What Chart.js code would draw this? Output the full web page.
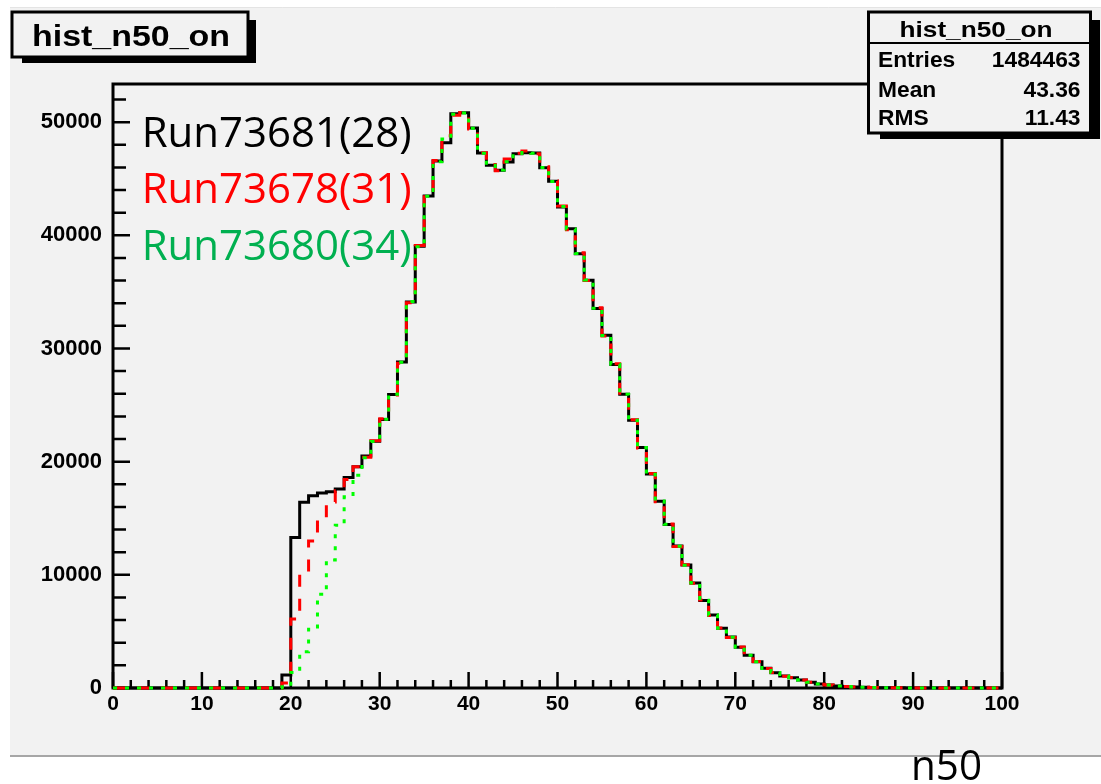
<!DOCTYPE html>
<html>
<head>
<meta charset="utf-8">
<title>hist_n50_on</title>
<script src="https://cdn.jsdelivr.net/npm/chart.js@4.4.0/dist/chart.umd.min.js"></script>
<style>
  html, body { margin: 0; padding: 0; background: #fff; }
  canvas { display: block; }
</style>
</head>
<body>
<canvas id="hist" width="1101" height="784"></canvas>
<script>
// bin contents of n50, 100 bins of width 1 from 0 to 100
const run73681 = [
    0, 0, 0, 0, 0, 0, 0, 0, 0, 0,
    0, 0, 0, 0, 0, 0, 0, 0, 0, 1150,
    13300, 16420, 16980, 17220, 17350, 17580, 18600, 19550, 20490, 21800,
    23730, 25930, 28810, 34110, 39030, 43470, 46560, 48180, 50740, 50830,
    49480, 47270, 46180, 45740, 46470, 47210, 47300, 47270, 45980, 44770,
    42500, 40590, 38380, 36040, 33530, 31170, 28580, 25960, 23660, 21250,
    18900, 16510, 14450, 12540, 10860, 9270, 7740, 6450, 5270, 4500,
    3590, 2900, 2320, 1740, 1350, 1060, 910, 710, 500, 350,
    260, 180, 130, 90, 60, 40, 30, 20, 15, 10,
    8, 5, 4, 3, 2, 2, 1, 1, 1, 0
];
const run73678 = [
    0, 0, 0, 0, 0, 0, 0, 0, 0, 0,
    0, 0, 0, 0, 0, 0, 0, 0, 0, 450,
    6090, 10050, 12980, 14890, 16430, 17430, 18430, 19560, 20400, 21850,
    23800, 25900, 28700, 34050, 39100, 43400, 46600, 48800, 50600, 50850,
    49400, 47300, 46250, 45700, 46750, 47250, 47450, 47200, 46050, 44800,
    42600, 40500, 38450, 36000, 33600, 31100, 28650, 25900, 23700, 21200,
    18950, 16450, 14500, 12500, 10900, 9250, 7780, 6400, 5300, 4470,
    3620, 2870, 2350, 1720, 1370, 1040, 920, 700, 510, 340,
    270, 175, 135, 88, 62, 42, 28, 21, 14, 10,
    7, 5, 4, 3, 2, 1, 1, 1, 0, 0
];
const run73680 = [
    0, 0, 0, 0, 0, 0, 0, 0, 0, 0,
    0, 0, 0, 0, 0, 0, 0, 0, 0, 100,
    1370, 3200, 5200, 8290, 11300, 14390, 16890, 18800, 20350, 21780,
    23750, 25950, 28780, 34150, 39000, 43450, 46500, 48500, 50700, 50800,
    49450, 47250, 46200, 45760, 46500, 47230, 47320, 47250, 46000, 44750,
    42550, 40550, 38400, 36050, 33550, 31150, 28600, 25950, 23650, 21250,
    18880, 16520, 14460, 12530, 10850, 9280, 7750, 6440, 5280, 4490,
    3600, 2890, 2330, 1730, 1360, 1050, 905, 705, 505, 345,
    255, 178, 128, 92, 58, 41, 29, 19, 15, 9,
    8, 5, 4, 2, 2, 1, 1, 0, 0, 0
];

const legendNames = ["Run73681(28)", "Run73678(31)", "Run73680(34)"];
const legendColors = ["#000000", "#ff0000", "#00b050"];
const statLabels = ["Entries", "Mean", "RMS"];
const statValues = ["1484463", "43.36", "11.43"];
const histTitle = "hist_n50_on";
const xTitle = "n50";

const xTickValues = [0, 10, 20, 30, 40, 50, 60, 70, 80, 90, 100];
const yTickValues = [0, 10000, 20000, 30000, 40000, 50000];

const xMin = 0, xMax = 100;
const yMax = 53370;

const rootFont = "'Liberation Sans', Arial, sans-serif";
const textFont = "'Open Sans', 'Noto Sans', sans-serif";

// histogram points at the low edge of each bin, plus the upper edge of the last one
function toSteps(vals) {
    let pts = vals.map((v, i) => ({ x: xMin + i, y: v }));
    pts.push({ x: xMin + vals.length, y: vals[vals.length - 1] });
    return pts;
}

// text squeezed / stretched horizontally
function drawText(ctx, text, x, y, font, color, align, width, sx) {
    ctx.save();
    ctx.font = font;
    ctx.fillStyle = color;
    ctx.textAlign = "left";
    ctx.textBaseline = "alphabetic";
    let w = ctx.measureText(text).width;
    let s = width ? width / w : (sx || 1);
    let x0 = x;
    if (align === "right") x0 = x - w * s;
    if (align === "center") x0 = x - w * s / 2;
    ctx.translate(x0, y);
    ctx.scale(s, 1);
    ctx.fillText(text, 0, 0);
    ctx.restore();
}

function boxWithShadow(ctx, x1, y1, x2, y2, sx2, sy1, sx1, sy2) {
    ctx.fillStyle = "#000";
    ctx.fillRect(sx1, sy1, sx2 - sx1, sy2 - sy1);
    ctx.fillStyle = "#f2f2f2";
    ctx.fillRect(x1, y1, x2 - x1, y2 - y1);
    ctx.strokeStyle = "#000";
    ctx.lineWidth = 3;
    ctx.strokeRect(x1, y1, x2 - x1, y2 - y1);
}

const rootStyle = {
    id: "rootStyle",
    beforeDraw(chart) {
        const ctx = chart.ctx;
        ctx.save();
        ctx.fillStyle = "#ffffff";
        ctx.fillRect(0, 0, chart.width, chart.height);
        ctx.fillStyle = "#f2f2f2";
        ctx.fillRect(10, 7, chart.width - 10, 749);
        ctx.strokeStyle = "#e4e4e4";
        ctx.lineWidth = 1;
        ctx.beginPath();
        ctx.moveTo(10, 7.5);
        ctx.lineTo(chart.width, 7.5);
        ctx.stroke();
        ctx.strokeStyle = "#a6a6a6";
        ctx.lineWidth = 2;
        ctx.beginPath();
        ctx.moveTo(10, 756);
        ctx.lineTo(chart.width, 756);
        ctx.stroke();
        ctx.restore();
    },
    beforeDatasetsDraw(chart) {
        const ctx = chart.ctx;
        const a = chart.chartArea;
        const xs = chart.scales.x, ys = chart.scales.y;
        ctx.save();
        ctx.strokeStyle = "#000";
        ctx.lineWidth = 3;
        ctx.strokeRect(a.left, a.top, a.right - a.left, a.bottom - a.top);

        // inward ticks, 5 divisions between labels
        ctx.lineWidth = 2.5;
        ctx.beginPath();
        for (let v = xMin; v <= xMax; v += 2) {
            let px = xs.getPixelForValue(v);
            let len = v % 10 === 0 ? 16 : 8;
            ctx.moveTo(px, a.bottom);
            ctx.lineTo(px, a.bottom - len);
        }
        for (let v = 0; v <= yMax; v += 2000) {
            let py = ys.getPixelForValue(v);
            let len = v % 10000 === 0 ? 17 : 13;
            ctx.moveTo(a.left, py);
            ctx.lineTo(a.left + len, py);
        }
        ctx.stroke();
        ctx.restore();
    },
    afterDraw(chart) {
        const ctx = chart.ctx;
        ctx.save();

        // title box
        boxWithShadow(ctx, 12, 12, 248, 57, 256, 20, 22, 63);
        drawText(ctx, histTitle, 131, 45.5, "bold 30px " + rootFont, "#000", "center", 198);

        // stats box
        boxWithShadow(ctx, 868.5, 12, 1090.5, 133, 1100, 20, 880, 139);
        ctx.strokeStyle = "#000";
        ctx.lineWidth = 2;
        ctx.beginPath();
        ctx.moveTo(868.5, 43);
        ctx.lineTo(1090.5, 43);
        ctx.stroke();
        drawText(ctx, histTitle, 976, 36.5, "bold 22px " + rootFont, "#000", "center", 153);
        const rowY = [66.7, 96.7, 125];
        statLabels.forEach((lab, i) => {
            drawText(ctx, lab, 878, rowY[i], "bold 21.5px " + rootFont, "#000", "left", null, 1.06);
            drawText(ctx, statValues[i], 1080.5, rowY[i], "bold 21.5px " + rootFont, "#000", "right", null, 1.06);
        });

        // run labels
        const legY = [146.7, 203.3, 260];
        legendNames.forEach((name, i) => {
            drawText(ctx, name, 141.7, legY[i], "42px " + textFont, legendColors[i], "left", 270);
        });

        // axis title
        drawText(ctx, xTitle, 911, 780, "42px " + textFont, "#000", "left", 71);
        ctx.restore();
    }
};

const tickFont = { family: "Liberation Sans", weight: "bold" };

new Chart(document.getElementById("hist").getContext("2d"), {
    type: "line",
    data: {
        datasets: [
            { label: legendNames[2], data: toSteps(run73680), borderColor: "#00ff00", borderDash: [4, 8], order: 0 },
            { label: legendNames[1], data: toSteps(run73678), borderColor: "#ff0000", borderDash: [12, 12], order: 1 },
            { label: legendNames[0], data: toSteps(run73681), borderColor: "#000000", order: 2 }
        ].map(d => Object.assign(d, {
            stepped: "before", borderWidth: 3, pointRadius: 0, fill: false,
            tension: 0, clip: false, borderCapStyle: "butt", borderJoinStyle: "miter"
        }))
    },
    options: {
        responsive: false,
        animation: false,
        devicePixelRatio: 1,
        layout: { padding: { left: 0, top: 84, right: 99, bottom: 0 } },
        plugins: { legend: { display: false }, tooltip: { enabled: false } },
        scales: {
            x: {
                type: "linear",
                min: xMin,
                max: xMax,
                afterFit: s => { s.height = 96; },
                afterBuildTicks: s => { s.ticks = xTickValues.map(v => ({ value: v })); },
                grid: { display: false, drawTicks: false },
                border: { display: false },
                ticks: {
                    autoSkip: false, maxRotation: 0, padding: 4,
                    color: "#000", font: Object.assign({ size: 21 }, tickFont),
                    callback: v => String(v)
                }
            },
            y: {
                type: "linear",
                min: 0,
                max: yMax,
                afterFit: s => { s.width = 113; },
                afterBuildTicks: s => { s.ticks = yTickValues.map(v => ({ value: v })); },
                grid: { display: false, drawTicks: false },
                border: { display: false },
                ticks: {
                    autoSkip: false, padding: 11,
                    color: "#000", font: Object.assign({ size: 22 }, tickFont),
                    callback: v => String(v)
                }
            }
        }
    },
    plugins: [rootStyle]
});
</script>
</body>
</html>
